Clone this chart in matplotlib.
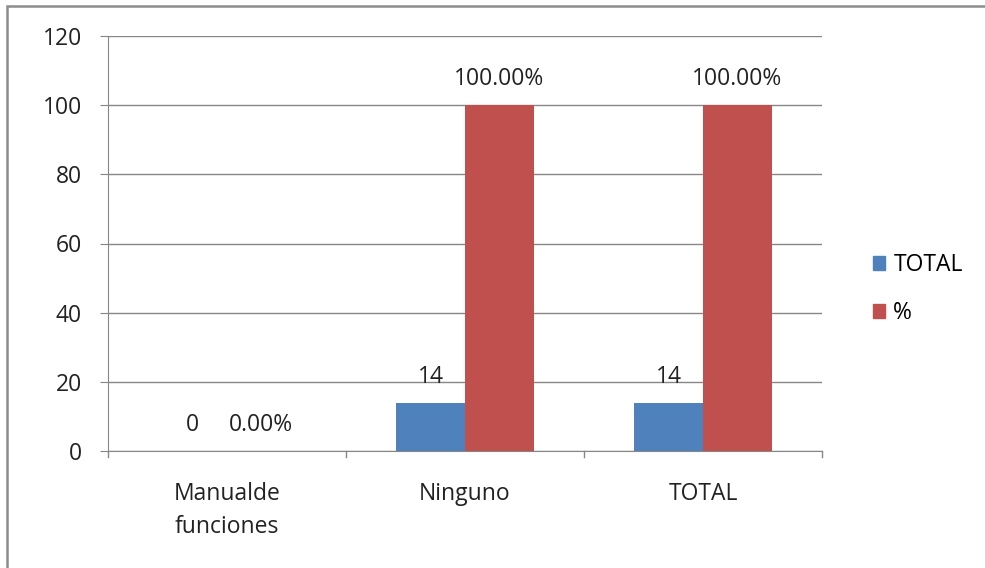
import matplotlib
matplotlib.use("Agg")
import matplotlib.pyplot as plt
from matplotlib.patches import Patch, Rectangle
import numpy as np

categories = ["Manualde\nfunciones", "Ninguno", "TOTAL"]
total_values = [0, 14, 14]
pct_values = [0, 100, 100]
total_labels = ["0", "14", "14"]
pct_labels = ["0.00%", "100.00%", "100.00%"]
y_ticks = [0, 20, 40, 60, 80, 100, 120]

BLUE = "#4F81BD"
RED = "#C0504D"
GRID = "#878787"
FONT = "Open Sans"
FS = 16.5

W, H = 985, 568
fig = plt.figure(figsize=(W / 100, H / 100), dpi=100)

# outer chart frame
fig.patches.append(Rectangle((7 / W, -0.1), 1.2, 1 - 6 / H + 0.1,
                             transform=fig.transFigure, fill=False,
                             edgecolor="#8c8c8c", linewidth=1.8))

ax = fig.add_axes([108 / W, 1 - 451 / H, (822 - 108) / W, (451 - 36) / H])

x = np.arange(len(categories))
bw = 0.288
ax.bar(x - bw / 2, total_values, bw, color=BLUE, label="TOTAL", zorder=3)
ax.bar(x + bw / 2, pct_values, bw, color=RED, label="%", zorder=3)

for xi, v, s in zip(x, total_values, total_labels):
    ax.annotate(s, (xi - bw / 2, v), xytext=(0, 26), textcoords="offset pixels",
                ha="center", va="center", fontsize=FS, family=FONT, color="#222222")
for xi, v, s in zip(x, pct_values, pct_labels):
    ax.annotate(s, (xi + bw / 2, v), xytext=(0, 26), textcoords="offset pixels",
                ha="center", va="center", fontsize=FS, family=FONT, color="#222222")

ax.set_xlim(-0.5, len(categories) - 0.5)
ax.set_ylim(0, 120)
ax.set_yticks(y_ticks)
ax.set_yticklabels([str(t) for t in y_ticks], fontsize=FS, family=FONT, color="#222222")
ax.yaxis.grid(True, color=GRID, linewidth=1.0, zorder=0)
ax.tick_params(axis="y", length=5.8, color=GRID, pad=13)

ax.set_xticks(x)
ax.set_xticklabels(categories, fontsize=FS, family=FONT, color="#222222",
                   linespacing=1.5)
ax.tick_params(axis="x", length=0, pad=22)
for b in np.arange(len(categories) + 1) - 0.5:
    ax.plot([b, b], [0, -1.6], color=GRID, linewidth=1.0, clip_on=False)

for side in ["top", "right"]:
    ax.spines[side].set_visible(False)
ax.spines["left"].set_color(GRID)
ax.spines["bottom"].set_color(GRID)

handles = [Patch(color=BLUE, label="TOTAL"), Patch(color=RED, label="%")]
fig.legend(handles=handles, loc="center left", bbox_to_anchor=(852 / W, 1 - 289 / H),
           frameon=False, prop={"family": FONT, "size": FS},
           handlelength=0.55, handleheight=0.55, handletextpad=0.35,
           labelspacing=1.05)

fig.savefig("out.png", dpi=100, facecolor="white")
